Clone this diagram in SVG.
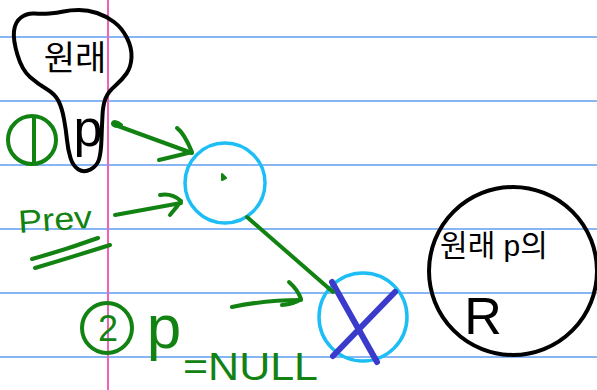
<svg xmlns="http://www.w3.org/2000/svg" width="597" height="390" viewBox="0 0 597 390">
<style>
.rule{stroke:#5e9ff0;stroke-width:1.5}
.margin{stroke:#f062b8;stroke-width:2}
.g{fill:none;stroke:#128212;stroke-width:4;stroke-linecap:round;stroke-linejoin:round}
.k{fill:none;stroke:#000;stroke-width:4;stroke-linecap:round;stroke-linejoin:round}
.c{fill:none;stroke:#1cbef5;stroke-width:3.5}
.x{stroke:#3a3acb;stroke-width:6;stroke-linecap:round}
.tg{fill:#128212;font-family:"Liberation Sans","Noto Sans CJK KR",sans-serif}
.tk{fill:#000;font-family:"Liberation Sans","Noto Sans CJK KR",sans-serif}
</style>
<rect width="597" height="390" fill="#fff"/>
<g id="paper">
<line class="rule" x1="0" y1="37" x2="597" y2="37"/>
<line class="rule" x1="0" y1="101" x2="597" y2="101"/>
<line class="rule" x1="0" y1="165" x2="597" y2="165"/>
<line class="rule" x1="0" y1="229" x2="597" y2="229"/>
<line class="rule" x1="0" y1="293" x2="597" y2="293"/>
<line class="rule" x1="0" y1="357" x2="597" y2="357"/>
<line class="margin" x1="108" y1="0" x2="108" y2="390"/>
</g>
<g id="orig-p">
<path class="k" d="M17.5,55 Q13,40 14,31 Q15,22 21,17.5 Q27,13 34.5,13.5 Q42,14 49.5,13.5 Q57,13 63.5,11.5 Q70,10 79,10 Q88,10 97,13 Q106,16 114,22 Q122,28 127,38 Q132,48 131.5,57.5 Q131,67 126.5,73.5 Q122,80 115,86 Q108,92 105.5,98.5 Q103,105 102.5,115 Q102,125 101.5,139 Q101,153 99,159.5 Q97,166 90.5,169.5 Q84,173 78.5,169.5 Q73,166 70.5,158 Q68,150 67,140 Q66,130 64,119 Q62,108 58.5,101 Q55,94 46.5,89 Q38,84 30,77 Q22,70 17.5,55 Z"/>
<text class="tk" x="75" y="70" font-size="34" text-anchor="middle">원래</text>
<text class="tk" x="88" y="146" font-size="52" text-anchor="middle">p</text>
</g>
<g id="step1">
<circle class="g" cx="32" cy="140" r="24"/>
<line class="g" x1="34" y1="118" x2="34" y2="163"/>
</g>
<g id="prev">
<text class="tg" x="19" y="233" font-size="32" textLength="74" lengthAdjust="spacingAndGlyphs" transform="rotate(-4 19 233)">Prev</text>
<path class="g" d="M32,259 Q65,250 98,238"/>
<path class="g" d="M35,268 Q72,257 110,245"/>
</g>
<g id="node1">
<circle class="c" cx="225" cy="183" r="40"/>
<path d="M222,174 L226,178 L222,180 Z" fill="#128212" stroke="#128212" stroke-width="2" stroke-linejoin="round"/>
</g>
<g id="node2">
<circle class="c" cx="363" cy="317" r="44"/>
<line class="x" x1="332" y1="282" x2="377" y2="362"/>
<line class="x" x1="395" y1="292" x2="333" y2="356"/>
</g>
<g id="step2">
<circle class="g" cx="107" cy="328" r="25"/>
<text class="tg" x="108" y="341" font-size="36" text-anchor="middle">2</text>
<text class="tg" x="164" y="348" font-size="62" text-anchor="middle">p</text>
<text class="tg" x="183" y="380" font-size="38" textLength="135" lengthAdjust="spacingAndGlyphs">=NULL</text>
</g>
<g id="origR">
<circle class="k" cx="513" cy="271" r="84"/>
<text class="tk" x="494" y="256" font-size="30" text-anchor="middle">원래 p의</text>
<text class="tk" x="483" y="334" font-size="52" text-anchor="middle">R</text>
</g>
<g id="connectors">
<path class="g" d="M121,125 C112,118 110,126 118,126 L192,153"/>
<path class="g" d="M177,128 Q184,133 192,152 Q176,156 159,160"/>
<path class="g" d="M115,215 L181,203"/>
<path class="g" d="M160,195 Q172,193 181,201 Q176,208 170,215"/>
<path class="g" d="M247,217 L333,292" stroke-width="3"/>
<path class="g" d="M232,307 Q265,300 301,300"/>
<path class="g" d="M289,282 Q298,290 301,299 Q294,304 282,305"/>
</g>
</svg>
